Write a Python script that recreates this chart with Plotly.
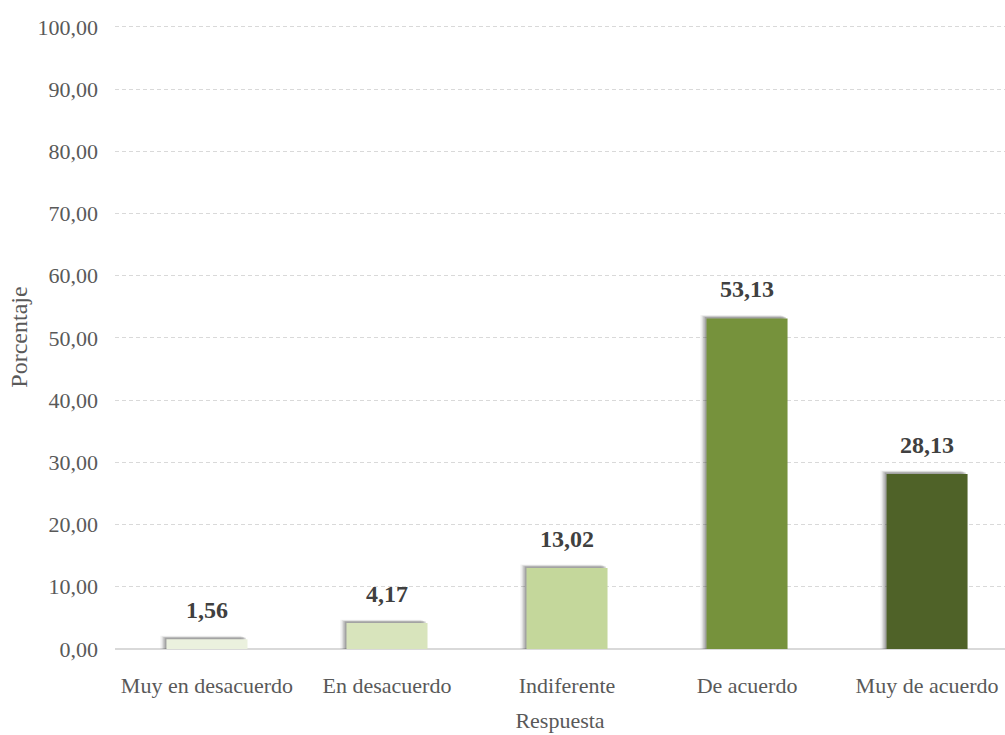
import plotly.graph_objects as go

categories = ["Muy en desacuerdo", "En desacuerdo", "Indiferente", "De acuerdo", "Muy de acuerdo"]
values = [1.56, 4.17, 13.02, 53.13, 28.13]
value_labels = ["1,56", "4,17", "13,02", "53,13", "28,13"]
bar_colors = ["#ebf1de", "#d8e4bc", "#c4d79b", "#76923c", "#4f6228"]
tick_vals = [0, 10, 20, 30, 40, 50, 60, 70, 80, 90, 100]
tick_text = ["0,00", "10,00", "20,00", "30,00", "40,00", "50,00", "60,00", "70,00", "80,00", "90,00", "100,00"]

FONT = "Liberation Serif"
W = 0.45

fig = go.Figure()
# soft shadow layers (left / top-left)
for dx, dy, alpha in [(-0.034, 0.55, 0.06), (-0.026, 0.45, 0.10), (-0.018, 0.35, 0.16), (-0.010, 0.25, 0.22)]:
    fig.add_trace(go.Bar(
        x=list(range(len(categories))), y=[v + dy for v in values],
        width=W, offset=-W / 2 + dx,
        marker=dict(color=f"rgba(50,50,50,{alpha})", line=dict(width=0)),
        hoverinfo="skip", showlegend=False,
    ))
fig.add_trace(go.Bar(
    x=list(range(len(categories))), y=values,
    width=W, offset=-W / 2,
    marker=dict(color=bar_colors, line=dict(width=0)),
    showlegend=False,
))

for i, (v, t) in enumerate(zip(values, value_labels)):
    fig.add_annotation(x=i, y=v, text=f"<b>{t}</b>", showarrow=False,
                       yanchor="bottom", yshift=14,
                       font=dict(family=FONT, size=24, color="#404040"))

fig.update_layout(
    width=1005, height=735,
    margin=dict(l=115, r=0, t=25, b=86),
    paper_bgcolor="white", plot_bgcolor="white",
    barmode="overlay",
    font=dict(family=FONT, size=22, color="#595959"),
    xaxis=dict(
        range=[-0.511, 4.433],
        tickvals=list(range(len(categories))), ticktext=categories,
        showgrid=False, zeroline=False, showline=False,
        ticks="", ticklabelstandoff=21,
        tickfont=dict(family=FONT, size=22, color="#595959"),
        title=dict(text="Respuesta", standoff=15,
                   font=dict(family=FONT, size=22, color="#595959")),
        fixedrange=True,
    ),
    yaxis=dict(
        range=[0, 100.3],
        tickvals=tick_vals, ticktext=tick_text,
        showgrid=True, gridcolor="#d9d9d9", griddash="4px,3px", gridwidth=1,
        zeroline=True, zerolinecolor="#d9d9d9", zerolinewidth=2,
        showline=False, ticks="", ticklabelstandoff=16,
        tickfont=dict(family=FONT, size=22, color="#595959"),
        title=dict(text="Porcentaje", standoff=3,
                   font=dict(family=FONT, size=24, color="#595959")),
    ),
)

fig.write_html("out.html")
